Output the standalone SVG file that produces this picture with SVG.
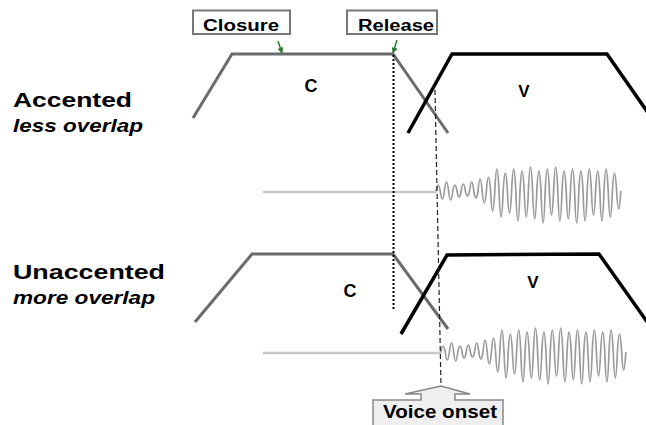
<svg xmlns="http://www.w3.org/2000/svg" xmlns:xlink="http://www.w3.org/1999/xlink" width="646" height="425" viewBox="0 0 646 425">
<style>
text{font-family:"Liberation Sans",Arial,sans-serif;font-weight:bold;fill:#000}
.it{font-style:italic}
.cons{fill:none;stroke:#6b6b6b;stroke-width:3;stroke-linejoin:miter}
.vow{fill:none;stroke:#000;stroke-width:3.5;stroke-linejoin:miter}
.flat{fill:none;stroke:#c8c8c8;stroke-width:2.5}
.wave{fill:none;stroke:#9a9a9a;stroke-width:1.7}
.box{fill:#fff;stroke:#777;stroke-width:2}
.grn{fill:none;stroke:#2d7a2d;stroke-width:1.5}
</style>
<defs>
<marker id="ga" viewBox="0 0 10 10" refX="9" refY="5" markerWidth="6" markerHeight="6" orient="auto" markerUnits="userSpaceOnUse">
<path d="M0,0 L10,5 L0,10 z" fill="#2d7a2d"/>
</marker>
<path id="wf" class="wave" d="M0,0
q2.1,-12 4.2,0 q2.1,16 4.2,0
q2.1,-18 4.2,0 q2.1,18 4.2,0
q2.1,-12 4.2,0 q2.1,12 4.2,0
q2.1,-14 4.2,0 q2.1,10 4.2,0
q2.1,-18 4.2,0 q2.1,14 4.2,0
q2.1,-24 4.2,0 q2.1,24 4.2,0
q2.1,-28 4.2,0 q2.1,40 4.2,0
q2.1,-44 4.2,0 q2.1,52 4.2,0
q2.1,-36 4.2,0 q2.1,44 4.2,0
q2.1,-44 4.2,0 q2.1,60 4.2,0
q2.1,-40 4.2,0 q2.1,52 4.2,0
q2.1,-48 4.2,0 q2.1,56 4.2,0
q2.1,-40 4.2,0 q2.1,64 4.2,0
q2.1,-44 4.2,0 q2.1,48 4.2,0
q2.1,-48 4.2,0 q2.1,60 4.2,0
q2.1,-40 4.2,0 q2.1,56 4.2,0
q2.1,-44 4.2,0 q2.1,64 4.2,0
q2.1,-40 4.2,0 q2.1,60 4.2,0
q2.1,-44 4.2,0 q2.1,48 4.2,0
q2.1,-40 4.2,0 q2.1,60 4.2,0
q2.1,-44 4.2,0 q2.1,52 4.2,0
q2.1,-36 4.2,0 q2.1,36 4.2,0"/>
</defs>
<rect width="646" height="425" fill="#fff"/>

<g id="label-accented">
<text x="13" y="107" font-size="20" textLength="119" lengthAdjust="spacingAndGlyphs">Accented</text>
<text class="it" x="13" y="132" font-size="18" textLength="130" lengthAdjust="spacingAndGlyphs">less overlap</text>
</g>
<g id="label-unaccented">
<text x="13" y="279" font-size="20" textLength="152" lengthAdjust="spacingAndGlyphs">Unaccented</text>
<text class="it" x="13" y="304" font-size="18" textLength="142" lengthAdjust="spacingAndGlyphs">more overlap</text>
</g>

<g id="closure">
<rect class="box" x="193" y="10.5" width="97" height="23.5"/>
<text x="203" y="31" font-size="16" textLength="76" lengthAdjust="spacingAndGlyphs">Closure</text>
</g>
<g id="release">
<rect class="box" x="347" y="10.5" width="90" height="23.5"/>
<text x="358" y="31" font-size="16" textLength="76" lengthAdjust="spacingAndGlyphs">Release</text>
</g>

<g id="c-accented">
<polyline class="cons" points="193,118 232,54 393,54 448,133"/>
<text x="311" y="92" font-size="18" text-anchor="middle">C</text>
</g>
<g id="v-accented">
<polyline class="vow" points="408,133 452,54 607,54 660,130"/>
<text x="524" y="97" font-size="17" text-anchor="middle">V</text>
</g>
<g id="wave-accented">
<line class="flat" x1="263" y1="192" x2="437" y2="192"/>
<use xlink:href="#wf" href="#wf" x="436" y="191"/>
</g>

<g id="c-unaccented">
<polyline class="cons" points="195,322 252,254 393,254 448,329"/>
<text x="350" y="297" font-size="18" text-anchor="middle">C</text>
</g>
<g id="v-unaccented">
<polyline class="vow" points="401,334 447,255 599,254 655,333"/>
<text x="533" y="288" font-size="17" text-anchor="middle">V</text>
</g>
<g id="wave-unaccented">
<line class="flat" x1="263" y1="353" x2="442" y2="353"/>
<use xlink:href="#wf" href="#wf" x="441" y="352"/>
</g>

<g id="voice-onset">
<path d="M373,426 L373,400 L421,400 L421,394 L405,394 L441,386 L470,394 L455,394 L455,400 L503,400 L503,426" fill="#efefef" stroke="#888" stroke-width="1.5"/>
<text x="383" y="418" font-size="18" textLength="114" lengthAdjust="spacingAndGlyphs">Voice onset</text>
</g>

<g id="connectors">
<line class="grn" x1="278" y1="41" x2="282" y2="53" marker-end="url(#ga)"/>
<line class="grn" x1="397" y1="40" x2="393" y2="53" marker-end="url(#ga)"/>
<line x1="393.5" y1="55" x2="393.5" y2="311" stroke="#000" stroke-width="2" stroke-dasharray="2,2"/>
<line x1="435" y1="90" x2="441" y2="386" stroke="#222" stroke-width="1.2" stroke-dasharray="5,3"/>
</g>
</svg>
